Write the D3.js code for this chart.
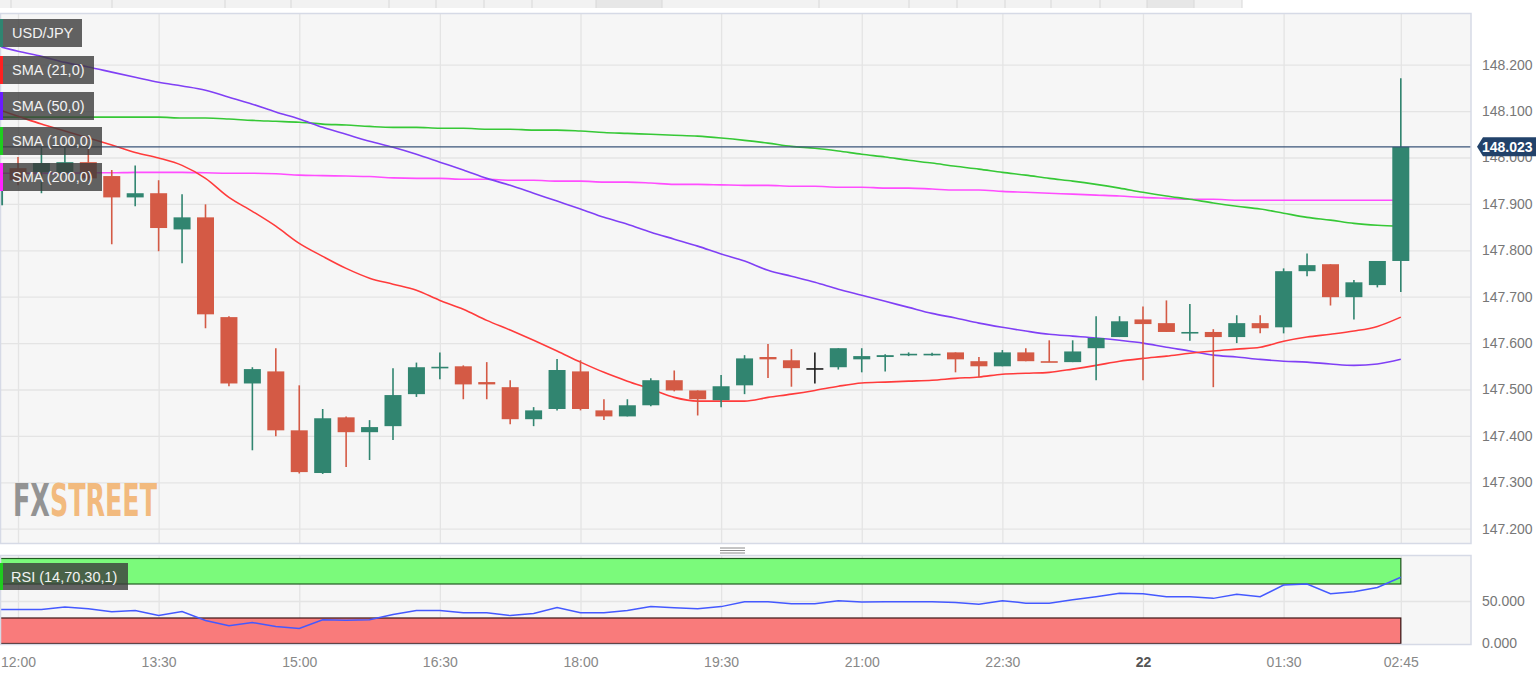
<!DOCTYPE html>
<html><head><meta charset="utf-8">
<script src="https://cdn.jsdelivr.net/npm/d3@7"></script>
<style>
html,body{margin:0;padding:0;background:#fff;overflow:hidden;}
svg{display:block;font-family:"Liberation Sans",Arial,sans-serif;}
</style></head><body>
<svg id="c" width="1536" height="676"></svg>
<script>
// ---------- DATA ----------
const times = ["11:45","12:00","12:15","12:30","12:45","13:00","13:15","13:30","13:45","14:00",
"14:15","14:30","14:45","15:00","15:15","15:30","15:45","16:00","16:15","16:30",
"16:45","17:00","17:15","17:30","17:45","18:00","18:15","18:30","18:45","19:00",
"19:15","19:30","19:45","20:00","20:15","20:30","20:45","21:00","21:15","21:30",
"21:45","22:00","22:15","22:30","22:45","23:00","23:15","23:30","23:45","00:00",
"00:15","00:30","00:45","01:00","01:15","01:30","01:45","02:00","02:15","02:30","02:45"];
const opens = [147.897,147.977,147.968,147.966,147.990,147.960,147.914,147.923,147.845,147.871,
147.656,147.513,147.539,147.412,147.320,147.440,147.408,147.421,147.490,147.547,
147.550,147.516,147.505,147.436,147.458,147.539,147.455,147.442,147.466,147.520,
147.498,147.477,147.509,147.570,147.563,147.546,147.548,147.565,147.570,147.575,
147.575,147.580,147.561,147.550,147.580,147.561,147.559,147.589,147.613,147.651,
147.643,147.622,147.624,147.613,147.643,147.634,147.755,147.770,147.699,147.725,147.777];
const highs = [147.947,148.001,148.022,148.022,148.022,147.973,147.983,147.951,147.921,147.899,
147.658,147.548,147.589,147.509,147.458,147.442,147.434,147.546,147.558,147.580,
147.552,147.559,147.520,147.462,147.566,147.563,147.479,147.479,147.524,147.541,
147.498,147.531,147.574,147.598,147.587,147.580,147.589,147.589,147.576,147.580,
147.579,147.580,147.570,147.585,147.589,147.606,147.606,147.658,147.658,147.679,
147.692,147.684,147.630,147.660,147.660,147.761,147.793,147.770,147.736,147.777,148.171];
const lows = [147.893,147.940,147.923,147.962,147.951,147.813,147.895,147.798,147.772,147.632,
147.507,147.369,147.399,147.319,147.318,147.333,147.348,147.391,147.484,147.522,
147.479,147.479,147.425,147.421,147.455,147.455,147.434,147.442,147.464,147.496,
147.444,147.462,147.490,147.525,147.506,147.513,147.543,147.537,147.539,147.572,
147.573,147.537,147.526,147.550,147.561,147.559,147.559,147.520,147.613,147.520,
147.624,147.605,147.505,147.600,147.621,147.621,147.744,147.681,147.651,147.720,147.710];
const closes = [147.936,147.951,147.988,147.990,147.955,147.914,147.923,147.848,147.871,147.662,
147.513,147.544,147.412,147.322,147.438,147.408,147.419,147.488,147.548,147.549,
147.511,147.511,147.436,147.455,147.542,147.458,147.442,147.466,147.520,147.498,
147.479,147.507,147.567,147.565,147.546,147.546,147.589,147.572,147.574,147.577,
147.577,147.565,147.550,147.580,147.561,147.559,147.582,147.611,147.647,147.641,
147.624,147.624,147.613,147.643,147.632,147.755,147.768,147.699,147.731,147.777,148.023];
const sma21 = [148.106,148.089,148.072,148.057,148.042,148.027,148.011,147.999,147.983,147.955,
147.914,147.884,147.852,147.815,147.787,147.761,147.740,147.727,147.714,147.692,
147.673,147.649,147.628,147.606,147.583,147.559,147.537,147.518,147.501,147.483,
147.475,147.475,147.475,147.483,147.490,147.498,147.507,147.514,147.516,147.518,
147.520,147.524,147.527,147.533,147.535,147.537,147.544,147.552,147.561,147.567,
147.572,147.578,147.583,147.587,147.591,147.604,147.613,147.619,147.626,147.636,147.656];
const sma50 = [148.242,148.229,148.218,148.205,148.195,148.184,148.173,148.162,148.154,148.145,
148.130,148.115,148.098,148.083,148.065,148.050,148.035,148.022,148.007,147.990,
147.973,147.955,147.940,147.923,147.906,147.889,147.871,147.856,147.839,147.824,
147.809,147.792,147.777,147.757,147.744,147.731,147.716,147.703,147.690,147.677,
147.664,147.654,147.643,147.634,147.626,147.619,147.615,147.611,147.606,147.600,
147.591,147.583,147.574,147.570,147.565,147.561,147.559,147.555,147.552,147.555,147.565];
const sma100 = [148.087,148.087,148.087,148.087,148.087,148.087,148.087,148.087,148.085,148.085,
148.083,148.080,148.078,148.076,148.072,148.070,148.067,148.065,148.065,148.063,
148.063,148.061,148.061,148.059,148.059,148.057,148.054,148.052,148.050,148.048,
148.046,148.042,148.037,148.031,148.024,148.020,148.014,148.007,148.001,147.994,
147.988,147.981,147.975,147.968,147.962,147.955,147.949,147.942,147.934,147.925,
147.917,147.910,147.902,147.895,147.889,147.880,147.871,147.865,147.858,147.854,147.852];
const sma200 = [147.966,147.966,147.966,147.966,147.967,147.967,147.968,147.968,147.968,147.967,
147.966,147.966,147.965,147.962,147.961,147.960,147.959,147.956,147.955,147.955,
147.953,147.953,147.951,147.951,147.949,147.949,147.947,147.947,147.945,147.942,
147.942,147.941,147.940,147.940,147.938,147.938,147.936,147.936,147.934,147.934,
147.932,147.930,147.930,147.927,147.925,147.923,147.921,147.919,147.917,147.914,
147.912,147.910,147.910,147.908,147.908,147.908,147.908,147.908,147.908,147.908,147.908];
const rsi = [40,40,40,43,41,37.5,38.7,33,37.5,27,
21,24.6,20,17.6,28,27.5,28,34,38.7,38.7,
36.3,36.3,32.8,35.2,42.2,36.3,36.3,38.7,43.4,42.2,
41,43.4,49.2,49.2,46.9,46.9,50.4,48.7,49,49.2,
49.2,48.1,46.3,50.4,47.5,47.5,51.6,55.1,59.1,58.6,
55.1,55.1,53.1,57.9,55.1,68.7,69.9,58.6,61,65.9,78];
const lastPrice = 148.023;
const priceTicks = [147.2,147.3,147.4,147.5,147.6,147.7,147.8,147.9,148.0,148.1,148.2];
const rsiTicks = [0,50];
const rsiLevels = [30,70];
const xTickTimes = ["12:00","13:30","15:00","16:30","18:00","19:30","21:00","22:30","00:00","01:30","02:45"];
const xTickLabels = ["12:00","13:30","15:00","16:30","18:00","19:30","21:00","22:30","22","01:30","02:45"];
const legendLabels = ["USD/JPY","SMA (21,0)","SMA (50,0)","SMA (100,0)","SMA (200,0)"];
const rsiLabel = "RSI (14,70,30,1)";

// ---------- LAYOUT ----------
const plotR = 1471, mainT = 14, mainB = 544, rsiT = 556, rsiB = 645;
const upCol = "#318570", downCol = "#d45a45";
const gridCol = "#e4e4e4", borderCol = "#d6dae6";

function toDate(s){ const [h,m] = s.split(":").map(Number); return new Date(2023,7, h < 11 ? 22 : 21, h, m); }
const dates = times.map(toDate);
const bars = times.map((t,i)=>({t:dates[i], o:opens[i], h:highs[i], l:lows[i], c:closes[i]}));

const x = d3.scaleTime().domain([toDate("12:00"), toDate("02:45")]).range([18, 1400.8]);
const y = d3.scaleLinear().domain([147.2, 148.2]).range([528.7, 64.7]);
const yr = d3.scaleLinear().domain([0,100]).range([643.5, 558.5]);
const cw = 17;

const svg = d3.select("#c");
const defs = svg.append("defs");
defs.append("clipPath").attr("id","cm").append("rect").attr("x",0).attr("y",mainT).attr("width",plotR).attr("height",mainB-mainT);
defs.append("clipPath").attr("id","cr").append("rect").attr("x",0).attr("y",rsiT).attr("width",plotR).attr("height",rsiB-rsiT);

// header strip
const hdr = svg.append("g");
hdr.append("rect").attr("x",0).attr("y",0).attr("width",1242).attr("height",8).attr("fill","#f2f2f2");
[[596,662],[1147,1194]].forEach(([a,b])=>hdr.append("rect").attr("x",a).attr("y",0).attr("width",b-a).attr("height",8).attr("fill","#e7e7e7"));
[11,112,225,291,389,436,484,532,596,662,819,909,957,1005,1051,1100,1147,1194,1242].forEach(px=>
  hdr.append("line").attr("x1",px).attr("x2",px).attr("y1",0).attr("y2",8).attr("stroke","#d8d8d8"));

// panels
svg.append("rect").attr("x",0).attr("y",mainT).attr("width",plotR).attr("height",mainB-mainT).attr("fill","#f6f6f6");
svg.append("rect").attr("x",0).attr("y",rsiT).attr("width",plotR).attr("height",rsiB-rsiT).attr("fill","#f6f6f6");

// grids via axes
const tickDates = xTickTimes.map(toDate);
const gMain = svg.append("g").attr("clip-path","url(#cm)");
gMain.append("g").attr("transform",`translate(0,${mainB})`)
  .call(d3.axisBottom(x).tickValues(tickDates).tickSize(-(mainB-mainT)).tickFormat(""))
  .call(g=>{g.select(".domain").remove(); g.selectAll("line").attr("stroke",gridCol).attr("stroke-width",1.3);});
gMain.append("g").attr("transform",`translate(${plotR},0)`)
  .call(d3.axisLeft(y).tickValues(priceTicks).tickSize(plotR).tickFormat(""))
  .call(g=>{g.select(".domain").remove(); g.selectAll("line").attr("stroke",gridCol).attr("stroke-width",1.3);});

const gR = svg.append("g").attr("clip-path","url(#cr)");
gR.append("g").attr("transform",`translate(0,${rsiB})`)
  .call(d3.axisBottom(x).tickValues(tickDates).tickSize(-(rsiB-rsiT)).tickFormat(""))
  .call(g=>{g.select(".domain").remove(); g.selectAll("line").attr("stroke",gridCol).attr("stroke-width",1.3);});
gR.append("g").attr("transform",`translate(${plotR},0)`)
  .call(d3.axisLeft(yr).tickValues([50]).tickSize(plotR).tickFormat(""))
  .call(g=>{g.select(".domain").remove(); g.selectAll("line").attr("stroke",gridCol).attr("stroke-width",1.3);});

// watermark
const wm = svg.append("text").attr("x",13).attr("y",516)
  .attr("font-family","'DejaVu Sans Condensed','DejaVu Sans',sans-serif").attr("font-weight","bold").attr("font-size",44)
  .attr("textLength",144).attr("lengthAdjust","spacingAndGlyphs");
wm.append("tspan").attr("fill","#939393").text("FX");
wm.append("tspan").attr("fill","#f2ba7e").text("STREET");

// panel borders
svg.append("rect").attr("x",0.5).attr("y",mainT-0.5).attr("width",plotR-0.5).attr("height",mainB-mainT).attr("fill","none").attr("stroke",borderCol).attr("stroke-width",1.5);
svg.append("rect").attr("x",0.5).attr("y",rsiT-0.5).attr("width",plotR-0.5).attr("height",rsiB-rsiT).attr("fill","none").attr("stroke",borderCol).attr("stroke-width",1.5);

// SMA lines
const line = arr => d3.line().curve(d3.curveMonotoneX).x((d,i)=>x(dates[i])).y(d=>y(d))(arr);
[[sma200,"#ff4dff"],[sma100,"#36c836"],[sma50,"#8040f5"],[sma21,"#ff3b3b"]].forEach(([arr,col])=>
  gMain.append("path").attr("d",line(arr)).attr("fill","none").attr("stroke",col).attr("stroke-width",1.6));

// candles
const colOf = d => d.c > d.o ? upCol : d.c < d.o ? downCol : "#1e1e1e";
const cg = gMain.append("g");
cg.selectAll("line.w").data(bars).join("line").attr("class","w")
  .attr("x1",d=>x(d.t)).attr("x2",d=>x(d.t)).attr("y1",d=>y(d.h)).attr("y2",d=>y(d.l))
  .attr("stroke",colOf).attr("stroke-width",1.6);
cg.selectAll("rect.b").data(bars).join("rect").attr("class","b")
  .attr("x",d=>x(d.t)-cw/2).attr("width",cw)
  .attr("y",d=>y(Math.max(d.o,d.c)))
  .attr("height",d=>Math.max(1.6, Math.abs(y(d.o)-y(d.c))))
  .attr("fill",colOf);

// last price line
gMain.append("line").attr("x1",0).attr("x2",plotR).attr("y1",y(lastPrice)).attr("y2",y(lastPrice))
  .attr("stroke","#3a5478").attr("stroke-width",1.2);

// legend boxes
const legCols = ["#2f8571","#ff2020","#6a1cff","#1fcc1f","#ff22ff"];
const legW = [82,94,94,102,102];
const legY = [19,56,92,127,163];
legendLabels.forEach((lab,i)=>{
  const g = svg.append("g").attr("transform",`translate(0,${legY[i]})`);
  g.append("rect").attr("width",legW[i]).attr("height",28).attr("fill","#3c3c3c").attr("fill-opacity",0.8);
  g.append("rect").attr("width",3).attr("height",28).attr("fill",legCols[i]);
  g.append("text").attr("x",12).attr("y",19).attr("font-size",14.5).attr("fill","#f2f2f2").text(lab);
});

// y axis labels
svg.append("g").attr("transform",`translate(${plotR},0)`)
  .call(d3.axisRight(y).tickValues(priceTicks).tickFormat(d3.format(".3f")).tickSize(0).tickPadding(11))
  .call(g=>{g.select(".domain").remove(); g.selectAll("text").attr("font-size",14).attr("fill","#777").attr("font-family","'Liberation Sans',Arial,sans-serif");});

// last price tag
const py = y(lastPrice);
svg.append("path").attr("d",`M1477,${py} L1483,${py-9.5} L1536,${py-9.5} L1536,${py+9.5} L1483,${py+9.5} Z`).attr("fill","#22426a");
svg.append("text").attr("x",1482).attr("y",py+5).attr("font-size",14).attr("font-weight","bold").attr("fill","#fff").text(d3.format(".3f")(lastPrice));

// splitter handle
[548,550.5,553].forEach(yy=>svg.append("line").attr("x1",720).attr("x2",745).attr("y1",yy).attr("y2",yy).attr("stroke","#8a8a8a").attr("stroke-width",1));

// RSI bands
const lastX = x(dates[dates.length-1]);
gR.append("rect").attr("x",-2).attr("y",yr(100)).attr("width",lastX+2).attr("height",yr(rsiLevels[1])-yr(100)).attr("fill","#7bfa7b").attr("stroke","#225a22").attr("stroke-width",1.2);
gR.append("rect").attr("x",-2).attr("y",yr(rsiLevels[0])).attr("width",lastX+2).attr("height",yr(0)-yr(rsiLevels[0])).attr("fill","#f97b7b").attr("stroke","#3a1414").attr("stroke-width",1.2);
gR.append("path").attr("d",d3.line().x((d,i)=>x(dates[i])).y(d=>yr(d))(rsi)).attr("fill","none").attr("stroke","#4459ff").attr("stroke-width",1.5);

// RSI legend
const rl = svg.append("g").attr("transform","translate(0,563)");
rl.append("rect").attr("width",128).attr("height",27).attr("fill","#3c3c3c").attr("fill-opacity",0.8);
rl.append("rect").attr("width",3).attr("height",27).attr("fill","#1fcc1f");
rl.append("text").attr("x",11).attr("y",18.5).attr("font-size",14.5).attr("fill","#f2f2f2").text(rsiLabel);

// RSI axis labels
svg.append("g").attr("transform",`translate(${plotR},0)`)
  .call(d3.axisRight(yr).tickValues(rsiTicks).tickFormat(d3.format(".3f")).tickSize(0).tickPadding(11))
  .call(g=>{g.select(".domain").remove(); g.selectAll("text").attr("font-size",14).attr("fill","#777").attr("font-family","'Liberation Sans',Arial,sans-serif");});

// x axis labels
svg.append("g").attr("transform",`translate(0,${rsiB})`)
  .call(d3.axisBottom(x).tickValues(tickDates).tickFormat((d,i)=>xTickLabels[i]).tickSize(0).tickPadding(12))
  .call(g=>{g.select(".domain").remove();
    g.selectAll("text").attr("font-size",14).attr("fill","#888").attr("font-family","'Liberation Sans',Arial,sans-serif")
     .filter((d,i)=>xTickLabels[i]==="22").attr("font-weight","bold").attr("fill","#555");});
</script>
</body></html>
